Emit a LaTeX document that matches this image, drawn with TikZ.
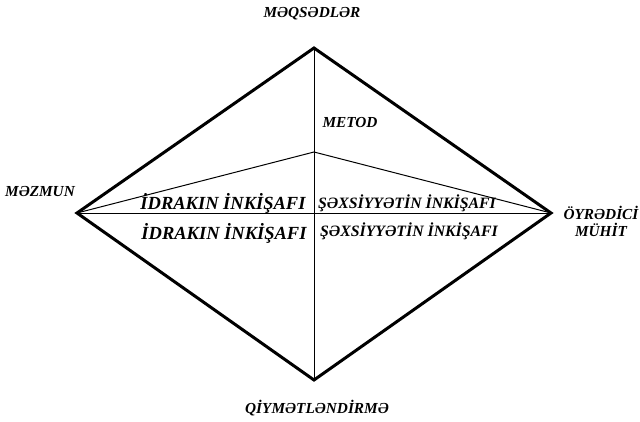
\documentclass[tikz,border=0pt]{standalone}
\usepackage{fontspec}
\setmainfont{Liberation Serif}
\tikzset{
  lbl/.style={font=\fontsize{15.3}{17}\selectfont\bfseries\itshape, inner sep=0pt},
  big/.style={font=\fontsize{18.5}{20}\selectfont\bfseries\itshape, inner sep=0pt},
  mid/.style={font=\fontsize{15.8}{18}\selectfont\bfseries\itshape, inner sep=0pt},
  outer/.style={line width=3pt, line join=miter},
  inner/.style={line width=1pt}
}
\begin{document}
\begin{tikzpicture}[x=1pt,y=-1pt]
\useasboundingbox (0,0) rectangle (640,421);
\coordinate (T) at (314,48);
\coordinate (L) at (77,213);
\coordinate (R) at (551,213);
\coordinate (B) at (314,380);
\coordinate (C) at (314,152);
\draw[outer] (T) -- (R) -- (B) -- (L) -- cycle;
\draw[inner] (T) -- (B);
\draw[inner] (L) -- (R);
\draw[inner] (L) -- (C) -- (R);
\node[lbl] (q) at (312,14) {MƏQSƏDLƏR};
\node[lbl] (m) at (350,123) {METOD};
\node[lbl] (z) at (40,192) {MƏZMUN};
\node[lbl, align=center] (o) at (601,221) {ÖYRƏDİCİ\\[0pt]MÜHİT};
\node[lbl] (qi) at (317,408) {QİYMƏTLƏNDİRMƏ};
\node[big] (i1) at (223,203) {İDRAKIN İNKİŞAFI};
\node[big] (i2) at (224,233) {İDRAKIN İNKİŞAFI};
\node[mid] (s1) at (407,203) {ŞƏXSİYYƏTİN İNKİŞAFI};
\node[mid] (s2) at (409,231) {ŞƏXSİYYƏTİN İNKİŞAFI};
\end{tikzpicture}
\end{document}
